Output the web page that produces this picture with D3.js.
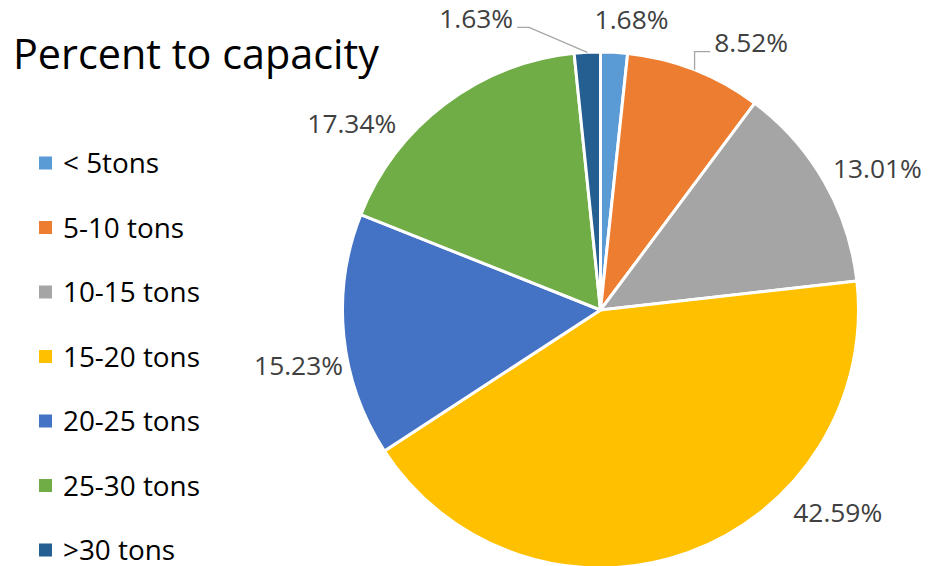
<!DOCTYPE html>
<html>
<head>
<meta charset="utf-8">
<script src="https://cdn.jsdelivr.net/npm/d3@7"></script>
<style>
  html, body { margin: 0; padding: 0; background: #fff; }
  svg { display: block; }
  text { font-family: "Open Sans", Lato, "Liberation Sans", sans-serif; }
</style>
</head>
<body>
<svg id="chart" width="930" height="566"></svg>
<script>
// ---- data ----
const categories = ["< 5tons", "5-10 tons", "10-15 tons", "15-20 tons", "20-25 tons", "25-30 tons", ">30 tons"];
const values = [1.68, 8.52, 13.01, 42.59, 15.23, 17.34, 1.63];
const labels = ["1.68%", "8.52%", "13.01%", "42.59%", "15.23%", "17.34%", "1.63%"];
const colors = ["#5B9BD5", "#ED7D31", "#A5A5A5", "#FFC000", "#4472C4", "#70AD47", "#255E91"];
const title = "Percent to capacity";

// ---- layout ----
const W = 930, H = 566;
const cx = 600.5, cy = 310, R = 258;
// label placement (angle in degrees clockwise from top, radius from pie centre)
const labelAngle = [6.1, 29.4, 62.9, 130.5, 259.6, 306.9, 336.9];
const labelRadius = [292, 307, 311, 312, 307, 311, 317];
const leader = [false, true, false, false, false, false, true];

const svg = d3.select("#chart");

// fit a font size so a sample string gets a target width
function fitSize(sample, base, target) {
  const t = svg.append("text").attr("font-size", base).text(sample);
  const w = t.node().getComputedTextLength();
  t.remove();
  return base * target / w;
}
const titleSize = fitSize(title, 40, 366);
const legendSize = fitSize("10-15 tons", 27, 137);
const labelSize = fitSize("13.01%", 27, 89);

svg.append("text")
  .attr("x", 13).attr("y", 69)
  .attr("font-size", titleSize).attr("fill", "#000")
  .text(title);

const pie = d3.pie().sort(null).value(d => d)(values);
const arc = d3.arc().innerRadius(0).outerRadius(R);

const g = svg.append("g").attr("transform", `translate(${cx},${cy})`);
g.selectAll("path.slice").data(pie).join("path")
  .attr("class", "slice")
  .attr("d", arc)
  .attr("fill", (d, i) => colors[i])
  .attr("stroke", "#fff")
  .attr("stroke-width", 3)
  .attr("stroke-linejoin", "round");

const rad = a => a * Math.PI / 180;
const lbl = g.selectAll("text.lbl").data(pie).join("text")
  .attr("class", "lbl")
  .attr("x", (d, i) => labelRadius[i] * Math.sin(rad(labelAngle[i])))
  .attr("y", (d, i) => -labelRadius[i] * Math.cos(rad(labelAngle[i])))
  .attr("dy", "0.36em")
  .attr("text-anchor", "middle")
  .attr("font-size", labelSize)
  .attr("fill", "#404040")
  .text((d, i) => labels[i]);

// leader lines
lbl.each(function(d, i) {
  if (!leader[i]) return;
  const bb = this.getBBox();
  const mid = (d.startAngle + d.endAngle) / 2;
  const px = R * Math.sin(mid), py = -R * Math.cos(mid);
  const ly = -labelRadius[i] * Math.cos(rad(labelAngle[i])) + 9;
  let pts;
  if (px > bb.x + bb.width) {
    const x0 = bb.x + bb.width + 4;
    pts = [[x0, ly], [x0 + 12, ly], [px, py]];
  } else {
    const x0 = bb.x - 4;
    pts = [[x0, ly], [px, ly], [px, py]];
  }
  g.append("path")
    .attr("d", d3.line()(pts))
    .attr("fill", "none")
    .attr("stroke", "#A6A6A6")
    .attr("stroke-width", 1.3);
});

// legend
const legend = svg.append("g");
const rowY = d3.scalePoint().domain(categories).range([163, 550]);
const items = legend.selectAll("g").data(categories).join("g")
  .attr("transform", d => `translate(39,${rowY(d)})`);
items.append("rect")
  .attr("x", 0).attr("y", -6.5).attr("width", 13).attr("height", 13)
  .attr("fill", (d, i) => colors[i]);
items.append("text")
  .attr("x", 24).attr("dy", "0.36em")
  .attr("font-size", legendSize).attr("fill", "#000")
  .text(d => d);
</script>
</body>
</html>
